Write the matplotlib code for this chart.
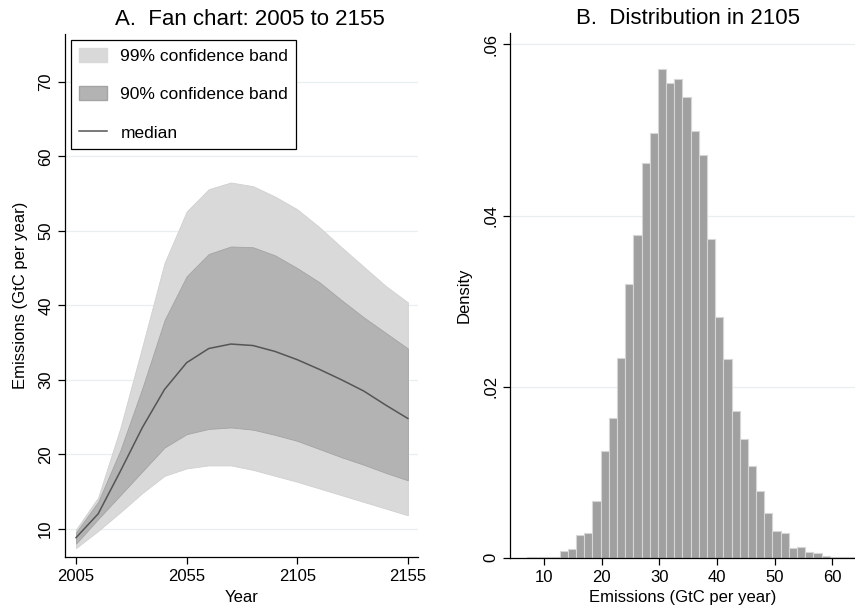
import numpy as np
import matplotlib
matplotlib.use("Agg")
import matplotlib.pyplot as plt
from matplotlib.patches import Patch
from matplotlib.lines import Line2D

plt.rcParams['font.family'] = ['Liberation Sans', 'DejaVu Sans']

# Panel A: fan chart (GtC per year)
years = [2005, 2015, 2025, 2035, 2045, 2055, 2065, 2075, 2085, 2095, 2105, 2115, 2125, 2135, 2145, 2155]
hi99 = [9.9, 14.2, 23.5, 34.5, 45.7, 52.6, 55.6, 56.5, 56.0, 54.6, 52.9, 50.5, 47.8, 45.2, 42.6, 40.4]
hi90 = [9.5, 13.6, 20.5, 28.9, 38.0, 43.9, 46.9, 47.9, 47.8, 46.7, 45.0, 43.1, 40.7, 38.4, 36.3, 34.2]
median = [8.8, 12.0, 17.7, 23.6, 28.7, 32.3, 34.2, 34.8, 34.6, 33.8, 32.7, 31.4, 30.0, 28.5, 26.6, 24.8]
lo90 = [8.0, 11.3, 14.5, 17.7, 20.9, 22.7, 23.4, 23.6, 23.3, 22.6, 21.8, 20.7, 19.6, 18.6, 17.5, 16.5]
lo99 = [7.4, 9.7, 12.2, 14.8, 17.1, 18.1, 18.5, 18.5, 17.9, 17.1, 16.3, 15.4, 14.5, 13.6, 12.7, 11.8]

# Panel B: histogram of emissions in 2105
bin_start = 7.0
bin_width = 1.42
density = [0.00005, 0.00005, 0.0001, 0.0001, 0.00074, 0.00097, 0.00269, 0.00289, 0.00659, 0.01251,
           0.01637, 0.02339, 0.03197, 0.03774, 0.04613, 0.04964, 0.05708, 0.05548, 0.05599, 0.05388,
           0.04991, 0.0471, 0.03727, 0.02819, 0.0232, 0.01719, 0.01392, 0.01072, 0.00784, 0.00522,
           0.00316, 0.00292, 0.00109, 0.00125, 0.0007, 0.0005, 0.00023, 0.0001, 0.00005, 0.0001]

light = '#d9d9d9'
dark = '#b3b3b3'
grid_col = '#e8eff1'

fig = plt.figure(figsize=(8.55, 6.08), dpi=100)
ax1 = fig.add_axes([0.0760, 0.0834, 0.4132, 0.8602])
ax2 = fig.add_axes([0.5965, 0.0827, 0.4030, 0.8625])

for ax in (ax1, ax2):
    for s in ('top', 'right'):
        ax.spines[s].set_visible(False)
    ax.spines['left'].set_linewidth(0.9)
    ax.spines['bottom'].set_linewidth(0.9)
    ax.tick_params(direction='out', length=5, width=0.9, labelsize=12)
    ax.set_axisbelow(True)

# fan chart
ax1.fill_between(years, lo99, hi99, color=light, lw=0.6, edgecolor='#d0d0d0', zorder=2)
ax1.fill_between(years, lo90, hi90, color=dark, lw=0.6, edgecolor='#a4a4a4', zorder=3)
ax1.plot(years, median, color='#555555', lw=1.1, zorder=4)
ax1.set_xlim(2000, 2159.7)
ax1.set_ylim(6.16, 76.4)
ax1.set_xticks([2005, 2055, 2105, 2155])
ax1.set_yticks([10, 20, 30, 40, 50, 60, 70])
ax1.grid(axis='y', color=grid_col, lw=0.9)
for lab in ax1.get_yticklabels():
    lab.set_rotation(90)
    lab.set_va('center')
ax1.set_xlabel('Year', fontsize=12, labelpad=4)
ax1.set_ylabel('Emissions (GtC per year)', fontsize=12, labelpad=7)
ax1.set_title('A.  Fan chart: 2005 to 2155', fontsize=16, x=0.524, pad=7)

handles = [Patch(facecolor=light, edgecolor=light),
           Patch(facecolor=dark, edgecolor='#a4a4a4'),
           Line2D([0], [0], color='#555555', lw=1.1)]
leg = ax1.legend(handles, ['99% confidence band', '90% confidence band', 'median'],
                 loc='upper left', bbox_to_anchor=(0.017, 0.989), borderaxespad=0,
                 fontsize=12.5, frameon=True, fancybox=False, framealpha=1,
                 edgecolor='black', handlelength=1.65, handleheight=0.85,
                 handletextpad=0.75, labelspacing=1.3, borderpad=0.45)
leg.get_frame().set_linewidth(0.9)
leg.set_zorder(10)

# histogram
edges = bin_start + bin_width * np.arange(len(density) + 1)
ax2.bar(edges[:-1], density, width=bin_width, align='edge', color='#a0a0a0',
        edgecolor='#d6d6d6', linewidth=0.8, zorder=2)
ax2.set_xlim(4.06, 63.85)
ax2.set_ylim(0, 0.0613)
ax2.set_xticks([10, 20, 30, 40, 50, 60])
ax2.set_yticks([0, 0.02, 0.04, 0.06])
ax2.set_yticklabels(['0', '.02', '.04', '.06'])
ax2.grid(axis='y', color=grid_col, lw=0.9)
ax2.yaxis.get_gridlines()[0].set_visible(False)
for lab in ax2.get_yticklabels():
    lab.set_rotation(90)
    lab.set_va('center')
ax2.set_xlabel('Emissions (GtC per year)', fontsize=12, labelpad=4)
ax2.set_ylabel('Density', fontsize=12, labelpad=8)
ax2.set_title('B.  Distribution in 2105', fontsize=16, x=0.516, pad=7)

fig.savefig('out.png', dpi=100)
